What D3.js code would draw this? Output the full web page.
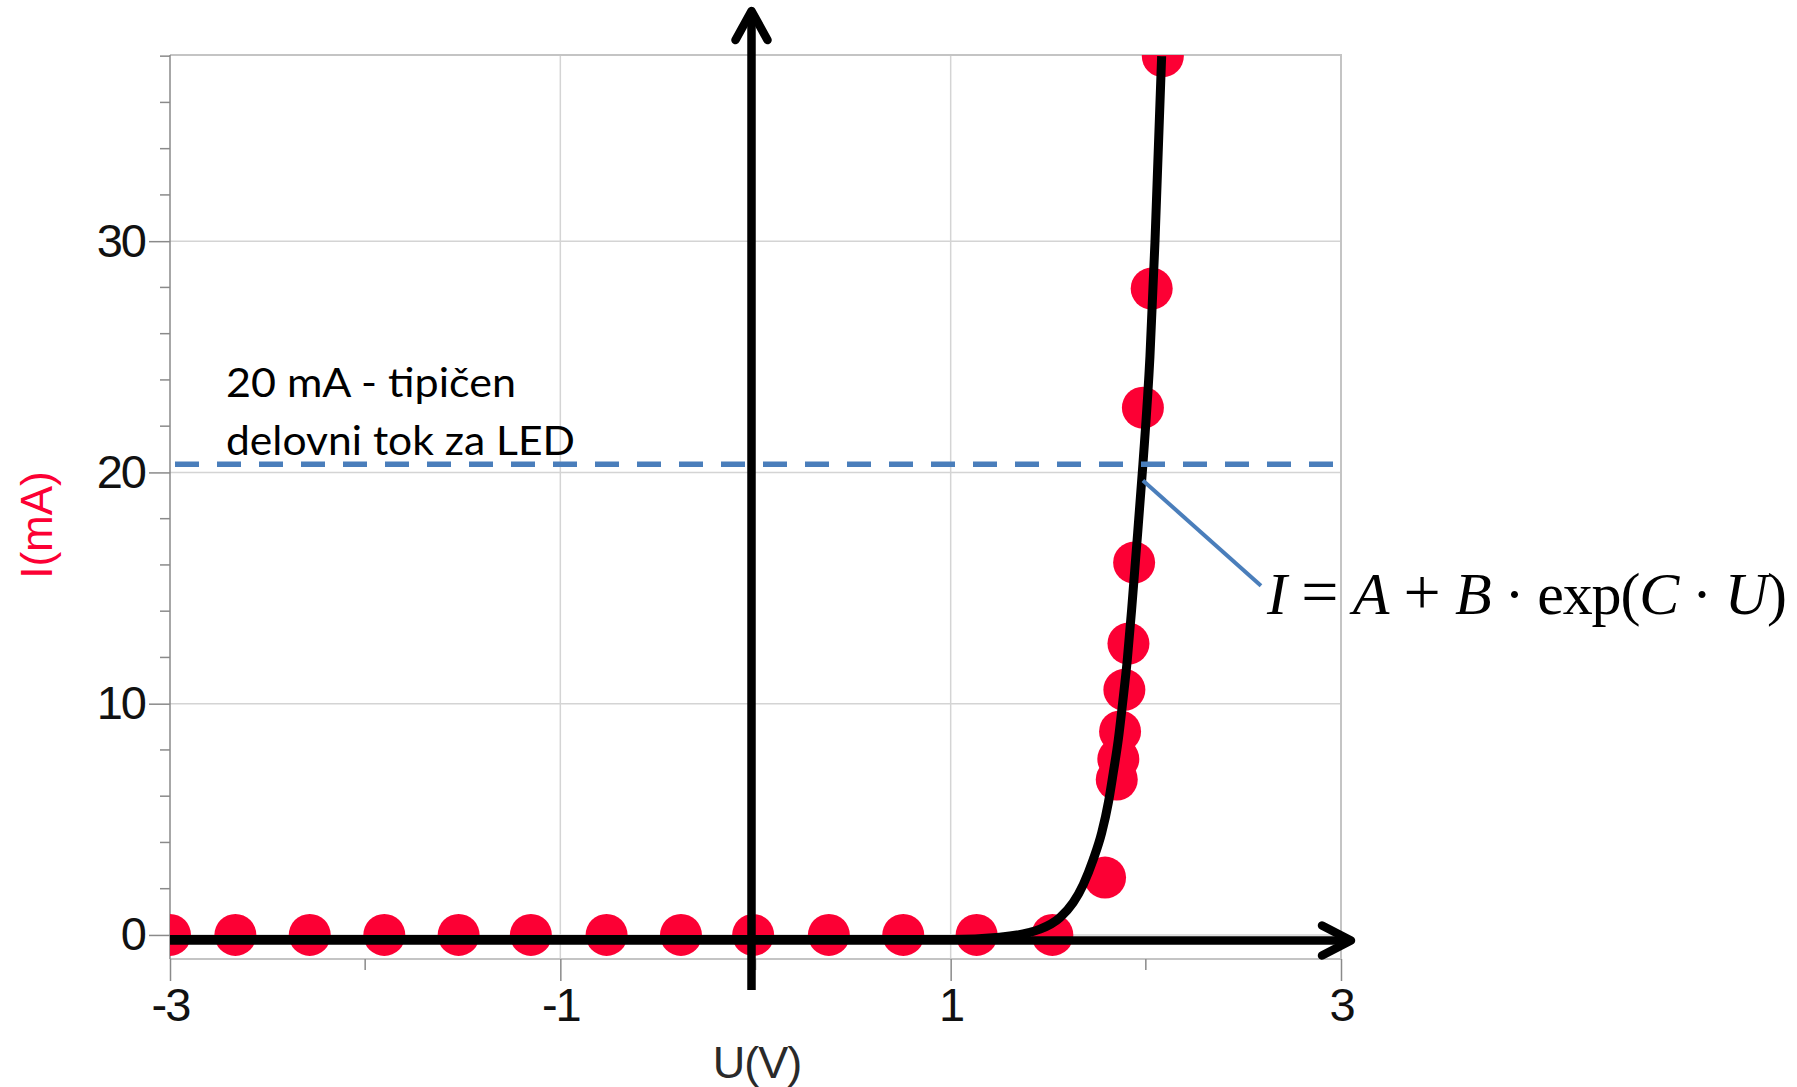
<!DOCTYPE html>
<html>
<head>
<meta charset="utf-8">
<script src="https://cdn.jsdelivr.net/npm/d3@7"></script>
<style>
    body { margin: 0; background: #fff; }
    svg { display: block; }
</style>
</head>
<body>
<div id="chart"></div>
<script>
// measured points (U in V, I in mA)
const measU = [-3, -2.665, -2.284, -1.902, -1.521, -1.151, -0.763, -0.382, -0.012, 0.376, 0.757, 1.133, 1.521,
    1.791, 1.851, 1.859, 1.868, 1.89, 1.911, 1.94, 1.985, 2.03, 2.087]
const measI = [0, 0, 0, 0, 0, 0, 0, 0, 0, 0, 0, 0, 0,
    2.48, 6.72, 7.61, 8.8, 10.6, 12.6, 16.1, 22.8, 27.95, 38]

// fitted curve I = A + B*exp(C*U)
const fitU = [-3, 1.0, 1.25, 1.4, 1.458, 1.56, 1.628, 1.68, 1.731, 1.774, 1.808, 1.833, 1.859, 1.881, 1.905, 1.927, 1.948, 1.985, 2.021, 2.047, 2.081]
const fitI = [-0.2, -0.2, -0.1, 0.1, 0.25, 0.75, 1.4, 2.19, 3.27, 4.42, 5.72, 7.01, 8.45, 10.03, 11.9, 14.05, 16.3, 20.35, 25, 30, 38]

const xTicks = [-3, -1, 1, 3]
const xMinor = [-2, 0, 2]
const yTicks = [0, 10, 20, 30]
const yMinor = d3.range(2, 39, 2).filter(v => v % 10 !== 0)
const typicalI = 20.35
const noteLines = ['20 mA - tipičen', 'delovni tok za LED']

const W = 1797, H = 1087
const plot = {left: 170, right: 1341, top: 55, bottom: 959}
const red = '#fc0034', blue = '#4a7ebb'

const x = d3.scaleLinear().domain([-3, 3]).range([plot.left, plot.right])
const y = d3.scaleLinear().domain([-1.04, 38.05]).range([plot.bottom, plot.top])

const svg = d3.select('#chart').append('svg')
    .attr('width', W)
    .attr('height', H)

svg.append('defs').append('clipPath').attr('id', 'clip')
    .append('rect')
    .attr('x', plot.left).attr('y', plot.top)
    .attr('width', plot.right - plot.left).attr('height', plot.bottom - plot.top)

// grid
const grid = svg.append('g').attr('stroke', '#d4d4d4').attr('stroke-width', 1.5)
grid.selectAll('.gx').data(xTicks.slice(1, -1)).enter().append('line')
    .attr('x1', d => x(d)).attr('x2', d => x(d))
    .attr('y1', plot.top).attr('y2', plot.bottom)
grid.selectAll('.gy').data(yTicks).enter().append('line')
    .attr('x1', plot.left).attr('x2', plot.right)
    .attr('y1', d => y(d)).attr('y2', d => y(d))

// frame (top, right, bottom light; left darker)
svg.append('path')
    .attr('d', `M${plot.left},${plot.top}H${plot.right}V${plot.bottom}H${plot.left}`)
    .attr('fill', 'none').attr('stroke', '#c4c4c4').attr('stroke-width', 2)

const tickFont = g => g
    .attr('fill', '#111')
    .style('font-family', '"Liberation Sans", Arial, sans-serif')
    .style('font-size', '47px')
    .attr('letter-spacing', '-2')

// y axis
const yAxis = d3.axisLeft(y).tickValues(yTicks).tickSize(21).tickPadding(4)
const gy = svg.append('g').attr('transform', `translate(${plot.left},0)`).call(yAxis)
gy.select('.domain').attr('stroke', '#8a8a8a').attr('stroke-width', 1.5)
    .attr('d', `M0,${plot.top}V${plot.bottom}`)
gy.selectAll('.tick line').attr('stroke', '#8a8a8a').attr('stroke-width', 1.5)
gy.selectAll('.tick text').call(tickFont)
gy.append('g').selectAll('line').data(yMinor).enter().append('line')
    .attr('x1', -10).attr('x2', 0)
    .attr('y1', d => y(d)).attr('y2', d => y(d))
    .attr('stroke', '#8a8a8a').attr('stroke-width', 1.5)

// x axis
const xAxis = d3.axisBottom(x).tickValues(xTicks).tickSize(22).tickPadding(7)
    .tickFormat(d3.format('d'))
const gx = svg.append('g').attr('transform', `translate(0,${plot.bottom})`).call(xAxis)
gx.select('.domain').remove()
gx.selectAll('.tick line').attr('stroke', '#8a8a8a').attr('stroke-width', 1.5)
gx.selectAll('.tick text')
    .text(d => d < 0 ? '-' + Math.abs(d) : d)
    .call(tickFont)
gx.append('g').selectAll('line').data(xMinor).enter().append('line')
    .attr('x1', d => x(d)).attr('x2', d => x(d))
    .attr('y1', 0).attr('y2', 11)
    .attr('stroke', '#8a8a8a').attr('stroke-width', 1.5)

// axis titles
svg.append('text')
    .attr('x', 757).attr('y', 1078)
    .attr('text-anchor', 'middle')
    .attr('fill', '#2a2a2a')
    .style('font-family', '"Liberation Sans", Arial, sans-serif')
    .style('font-size', '45px')
    .attr('letter-spacing', '-1')
    .text('U(V)')
svg.append('text')
    .attr('transform', 'translate(52,525) rotate(-90)')
    .attr('text-anchor', 'middle')
    .attr('fill', red)
    .style('font-family', '"Liberation Sans", Arial, sans-serif')
    .style('font-size', '44px')
    .text('I(mA)')

// annotation text
const note = svg.append('text')
    .attr('fill', '#000')
    .style('font-family', 'Lato, "Open Sans", sans-serif')
    .style('font-size', '41px')
note.selectAll('tspan').data(noteLines).enter().append('tspan')
    .attr('x', x(-3) + 56)
    .attr('y', (d, i) => 397 + i * 58)
    .attr('textLength', (d, i) => i ? 349 : 290)
    .attr('lengthAdjust', 'spacingAndGlyphs')
    .text(d => d)

const inner = svg.append('g').attr('clip-path', 'url(#clip)')

// measured points
inner.selectAll('circle').data(measU).enter().append('circle')
    .attr('cx', d => x(d))
    .attr('cy', (d, i) => y(measI[i]))
    .attr('r', 21)
    .attr('fill', red)

// fitted curve
const line = d3.line()
    .x(d => x(d))
    .y((d, i) => y(fitI[i]))
    .curve(d3.curveMonotoneX)
inner.append('path')
    .attr('d', line(fitU))
    .attr('fill', 'none')
    .attr('stroke', '#000')
    .attr('stroke-width', 9)

// black axis arrows
const arrows = svg.append('g')
    .attr('stroke', '#000').attr('stroke-width', 8.5)
    .attr('stroke-linecap', 'round').attr('stroke-linejoin', 'round').attr('fill', 'none')
const ax0 = x(0) - 4, ay0 = y(0) + 5.5
const tipY = 9, tipX = plot.right + 12
arrows.append('line').attr('x1', ax0).attr('x2', ax0).attr('y1', 990).attr('y2', tipY + 2)
    .attr('stroke-linecap', 'butt')
arrows.append('path').attr('d', `M${ax0 - 16},${tipY + 31}L${ax0},${tipY + 2}L${ax0 + 16},${tipY + 31}`)
arrows.append('line').attr('x1', plot.left).attr('x2', tipX - 2).attr('y1', ay0).attr('y2', ay0)
    .attr('stroke-linecap', 'butt')
arrows.append('path').attr('d', `M${tipX - 31},${ay0 - 15}L${tipX - 2},${ay0}L${tipX - 31},${ay0 + 15}`)

// 20 mA dashed line
svg.append('line')
    .attr('x1', x(-3) + 5).attr('x2', x(3) - 8)
    .attr('y1', y(typicalI)).attr('y2', y(typicalI))
    .attr('stroke', blue).attr('stroke-width', 5.5)
    .attr('stroke-dasharray', '24 18')

// leader to formula
svg.append('line')
    .attr('x1', x(1.985)).attr('y1', y(19.65))
    .attr('x2', x(2.59)).attr('y2', y(15.1))
    .attr('stroke', blue).attr('stroke-width', 4)

// formula
const f = svg.append('text')
    .attr('x', 1267).attr('y', 614)
    .attr('textLength', 520)
    .attr('fill', '#000')
    .style('font-family', '"Liberation Serif", "Times New Roman", serif')
    .style('font-size', '60px')
const parts = [['I', 1], [' = ', 0], ['A', 1], [' + ', 0], ['B', 1], [' \u00b7 exp(', 0], ['C', 1], [' \u00b7 ', 0], ['U', 1], [')', 0]]
f.selectAll('tspan').data(parts).enter().append('tspan')
    .style('font-style', d => d[1] ? 'italic' : 'normal')
    .style('font-size', d => /[=+]/.test(d[0]) ? '66px' : null)
    .text(d => d[0])
</script>
</body>
</html>
